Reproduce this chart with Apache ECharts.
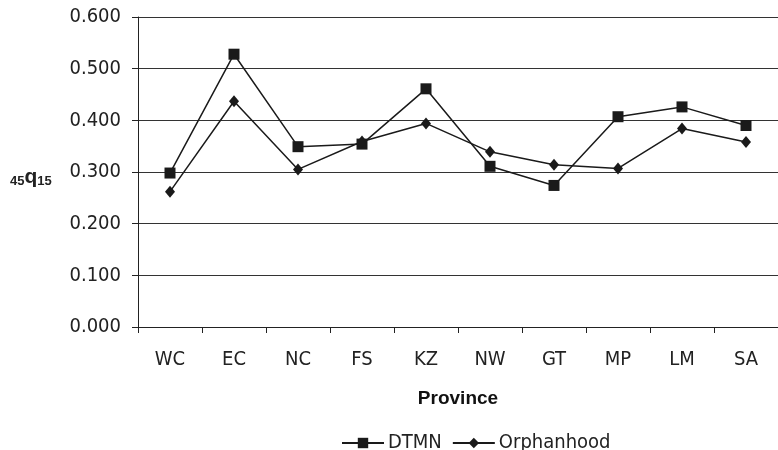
<!DOCTYPE html>
<html><head><meta charset="utf-8">
<script src="https://cdn.jsdelivr.net/npm/echarts@6/dist/echarts.min.js"></script>
<style>html,body{margin:0;padding:0;background:#fff}#c{width:778px;height:450px}</style>
</head><body><div id="c"></div>
<script>
const categories = ['WC','EC','NC','FS','KZ','NW','GT','MP','LM','SA'];
const dtmn = [0.298,0.528,0.349,0.354,0.461,0.311,0.274,0.407,0.426,0.390];
const orphanhood = [0.262,0.437,0.305,0.359,0.394,0.339,0.314,0.307,0.384,0.358];
const yTicks = [0,0.1,0.2,0.3,0.4,0.5,0.6];

const narrow = "'DejaVu Sans Condensed','Liberation Sans Narrow',sans-serif";
const chart = echarts.init(document.getElementById('c'), null, {renderer:'canvas'});
chart.setOption({
  animation:false,
  backgroundColor:'#fff',
  grid:{left:138, top:17, width:645, height:310, containLabel:false},
  xAxis:{
    type:'category', data:categories, boundaryGap:true,
    name:'Province', nameLocation:'middle', nameGap:62,
    nameTextStyle:{fontFamily:"'Liberation Sans',sans-serif", fontWeight:'bold', fontSize:19, color:'#111'},
    axisLine:{lineStyle:{color:'#222', width:1}},
    axisTick:{show:true, length:6, lineStyle:{color:'#222'}},
    axisLabel:{fontFamily:narrow, fontSize:20, color:'#222', margin:23}
  },
  yAxis:{
    type:'value', min:yTicks[0], max:yTicks[yTicks.length-1], interval:0.1,
    axisLine:{show:true, lineStyle:{color:'#222', width:1}},
    axisTick:{show:true, length:6, lineStyle:{color:'#222'}},
    axisLabel:{fontFamily:narrow, fontSize:20, color:'#222', margin:17, formatter:v=>v.toFixed(3)},
    splitLine:{lineStyle:{color:'#333', width:1}}
  },
  legend:{
    top:428, left:336, itemWidth:42, itemHeight:13, itemGap:10,
    textStyle:{fontFamily:narrow, fontSize:20, color:'#222', padding:[0,0,0,-1]},
    data:['DTMN','Orphanhood']
  },
  graphic:[{
    type:'text', left:10, top:167,
    style:{
      text:'{s|45}{q|q}{s|15}',
      rich:{
        s:{fontFamily:"'Liberation Sans',sans-serif", fontWeight:'bold', fontSize:13, fill:'#222', padding:[8,0,0,0]},
        q:{fontFamily:"'Liberation Sans',sans-serif", fontWeight:'bold', fontSize:21, fill:'#222'}
      }
    }
  }],
  series:[
    {name:'DTMN', type:'line', data:dtmn, symbol:'rect', symbolSize:11,
     lineStyle:{color:'#1a1a1a', width:1.5}, itemStyle:{color:'#1a1a1a'}},
    {name:'Orphanhood', type:'line', data:orphanhood, symbol:'diamond', symbolSize:[10,12],
     lineStyle:{color:'#1a1a1a', width:1.5}, itemStyle:{color:'#1a1a1a'}}
  ]
});
</script></body></html>
